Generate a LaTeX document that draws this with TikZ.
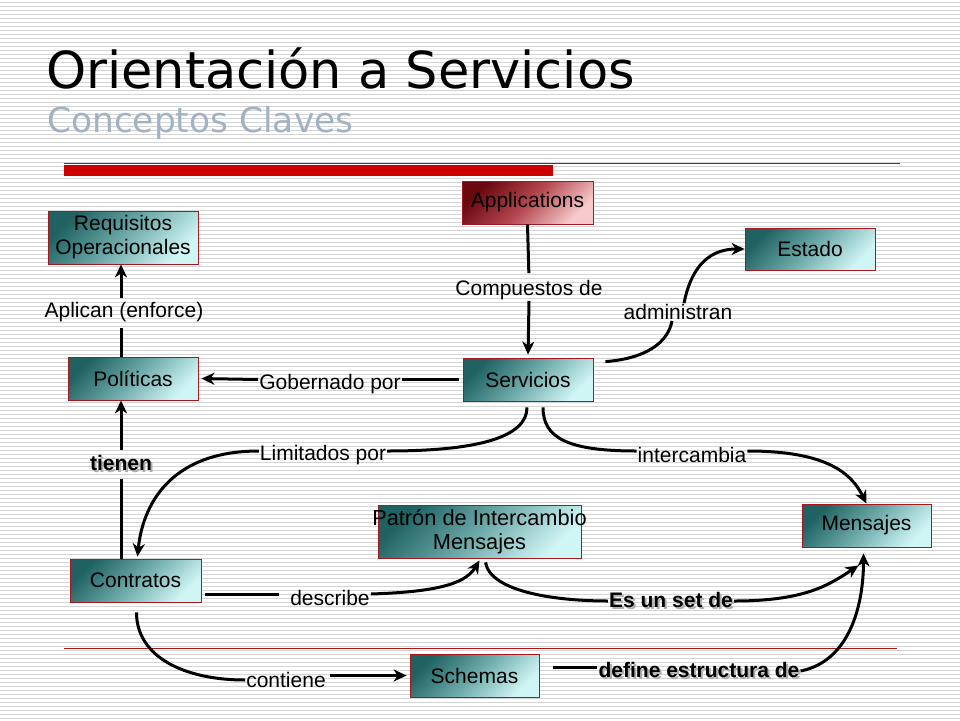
\documentclass[tikz,border=0pt]{standalone}
\usepackage{fontspec}
\setmainfont{Liberation Sans}
\newfontfamily\titlefont{DejaVu Sans}
\usetikzlibrary{arrows.meta,calc}
\definecolor{stripe}{RGB}{212,212,212}
\definecolor{subgray}{RGB}{160,178,196}
\definecolor{barred}{RGB}{204,0,0}
\definecolor{darkred}{RGB}{170,20,20}
\definecolor{boxborder}{RGB}{165,25,30}
\definecolor{tealA}{RGB}{32,98,98}
\definecolor{tealB}{RGB}{110,170,170}
\definecolor{tealC}{RGB}{208,245,245}
\definecolor{redA}{RGB}{105,8,14}
\definecolor{redB}{RGB}{180,70,78}
\definecolor{redC}{RGB}{246,202,204}
\definecolor{shadowgray}{RGB}{175,175,175}
\newcommand\shadowtxt[1]{\rlap{\hspace{2pt}\raisebox{-2pt}{\textcolor{shadowgray}{#1}}}#1}
\begin{document}
\begin{tikzpicture}[x=1pt,y=-1pt,
  box/.style={draw=boxborder,line width=0.8pt,inner sep=0pt,align=center,font=\fontsize{21}{24}\selectfont},
  tealbox/.style={box,top color=tealA,bottom color=tealC,middle color=tealB,shading angle=45},
  redbox/.style={box,top color=redA,bottom color=redC,middle color=redB,shading angle=45},
  lbl/.style={inner sep=1pt,font=\fontsize{21}{24}\selectfont},
  blbl/.style={inner sep=1pt,font=\fontsize{21}{24}\selectfont\bfseries},
  conn/.style={line width=3pt},
  arr/.style={conn,-{Stealth[length=13pt,width=12pt,inset=4pt]}}
]
\useasboundingbox (0,0) rectangle (960,720);
\fill[white] (0,0) rectangle (960,720);
\foreach \k in {0,...,179}{\draw[stripe,line width=1pt] (0,4*\k+2) -- (960,4*\k+2);}
% title
\node[anchor=base west,inner sep=0pt,font=\titlefont\fontsize{51}{60}\selectfont] (title) at (46,88) {Orientación a Servicios};
\node[anchor=base west,inner sep=0pt,font=\titlefont\fontsize{34.4}{40}\selectfont,text=subgray] (subtitle) at (47,132) {Conceptos Claves};
\draw[darkred,line width=1pt] (64,163.5) -- (900,163.5);
\fill[barred] (64,165) rectangle (553,176);
\draw[darkred,line width=1pt] (64,648) -- (897,648);
% boxes
\node[redbox,minimum width=131pt,minimum height=43pt] (app) at (527.5,202.5) {Applications};
\node[tealbox,minimum width=150pt,minimum height=53pt] (req) at (123,237.5) {Requisitos\\Operacionales};
\node[tealbox,minimum width=130pt,minimum height=42pt] (estado) at (810,249) {Estado};
\node[tealbox,minimum width=130pt,minimum height=43pt] (pol) at (133,378.5) {Políticas};
\node[tealbox,minimum width=130pt,minimum height=43pt] (serv) at (528,379.5) {Servicios};
\node[tealbox,minimum width=129pt,minimum height=43pt] (mens) at (866.5,525.5) {Mensajes};
\node[tealbox,minimum width=203pt,minimum height=53pt] (patron) at (479.5,531.5) {\makebox[190pt]{\fontsize{21.8}{24}\selectfont Patrón de Intercambio}\\\fontsize{21.8}{24}\selectfont Mensajes};
\node[tealbox,minimum width=131pt,minimum height=43pt] (contr) at (135.5,580.5) {Contratos};
\node[tealbox,minimum width=129pt,minimum height=43pt] (schem) at (474.5,675.5) {Schemas};
% labels
\node[lbl] (lcomp) at (529,290) {Compuestos de};
\node[lbl] (lapl) at (124,312) {Aplican (enforce)};
\node[lbl] (lgob) at (330,384) {Gobernado por};
\node[lbl] (ladm) at (678,312) {administran};
\node[lbl] (llim) at (323,455) {Limitados por};
\node[lbl] (linter) at (692,455) {intercambia};
\node[blbl] (ltien) at (121,464) {\shadowtxt{tienen}};
\node[lbl] (ldesc) at (330,598) {describe};
\node[blbl] (lset) at (671,601) {\shadowtxt{Es un set de}};
\node[lbl] (lcont) at (286,680) {contiene};
\node[blbl] (ldef) at (699,671) {\shadowtxt{define estructura de}};
% coordinates for free ends
\coordinate (admS) at ($(serv.north east)+(12,4)$);
\coordinate (limS) at ($(serv.south)+(-1,6)$);
\coordinate (intS) at ($(serv.south)+(15,6)$);
\coordinate (descS) at ($(contr.east)+(4,14)$);
\coordinate (setS) at ($(patron.south)+(6,4)$);
\coordinate (setE) at ($(mens.south)+(-8,18)$);
\coordinate (contS) at ($(contr.south)+(1,10)$);
\coordinate (defS) at ($(schem.east)+(14,-8)$);
\coordinate (defE) at ($(mens.south)+(-3,6)$);
% connectors
\draw[conn,shorten >=6pt] (app.south) -- (lcomp.north);
\draw[arr,shorten >=3pt] (lcomp.south) -- (serv.north);
\draw[conn,shorten >=5pt] (ltien |- pol.north) -- (ltien |- lapl.south);
\draw[arr,shorten <=3pt] (ltien |- lapl.north) -- (ltien |- req.south);
\draw[conn,shorten >=5pt] (ltien |- contr.north) -- (ltien.south);
\draw[arr,shorten <=4pt] (ltien.north) -- (ltien |- pol.south);
\draw[conn,shorten <=4pt] (serv.west) -- (lgob.east |- serv.west);
\draw[arr,shorten >=3pt] (lgob.west |- serv.west) -- (pol.east);
\draw[conn] (admS) .. controls +(40,-3) and +(-4,22) .. ($(ladm.south)+(-6,0)$);
\draw[arr] ($(ladm.north)+(6,0)$) .. controls +(6,-30) and +(-40,0) .. (estado.west);
\draw[conn] (limS) .. controls +(0,30) and +(90,0) .. ($(llim.east)+(0,-4)$);
\draw[arr] ($(llim.west)+(0,-4)$) .. controls +(-90,0) and +(5,-50) .. ($(contr.north)+(2,-2)$);
\draw[conn] (intS) .. controls +(0,30) and +(-70,0) .. ($(linter.west)+(0,-4)$);
\draw[arr] ($(linter.east)+(0,-4)$) .. controls +(80,0) and +(-15,-30) .. (mens.north);
\draw[conn,shorten >=10pt] (descS) -- (descS -| ldesc.west);
\draw[arr] ($(ldesc.east)+(0,-4)$) .. controls +(60,-2) and +(-15,25) .. ($(patron.south)+(0,2)$);
\draw[conn] (setS) .. controls +(5,30) and +(-50,0) .. (lset.west);
\draw[arr] (lset.east) .. controls +(70,0) and +(-30,20) .. (setE);
\draw[conn] (contS) .. controls +(0,45) and +(-60,0) .. (lcont.west);
\draw[arr,shorten >=3pt,shorten <=3pt] (lcont.east |- schem.west) -- (schem.west);
\draw[conn] (defS) -- (defS -| ldef.west);
\draw[arr] (ldef.east) .. controls +(50,-10) and +(0,50) .. (defE);
\end{tikzpicture}
\end{document}
